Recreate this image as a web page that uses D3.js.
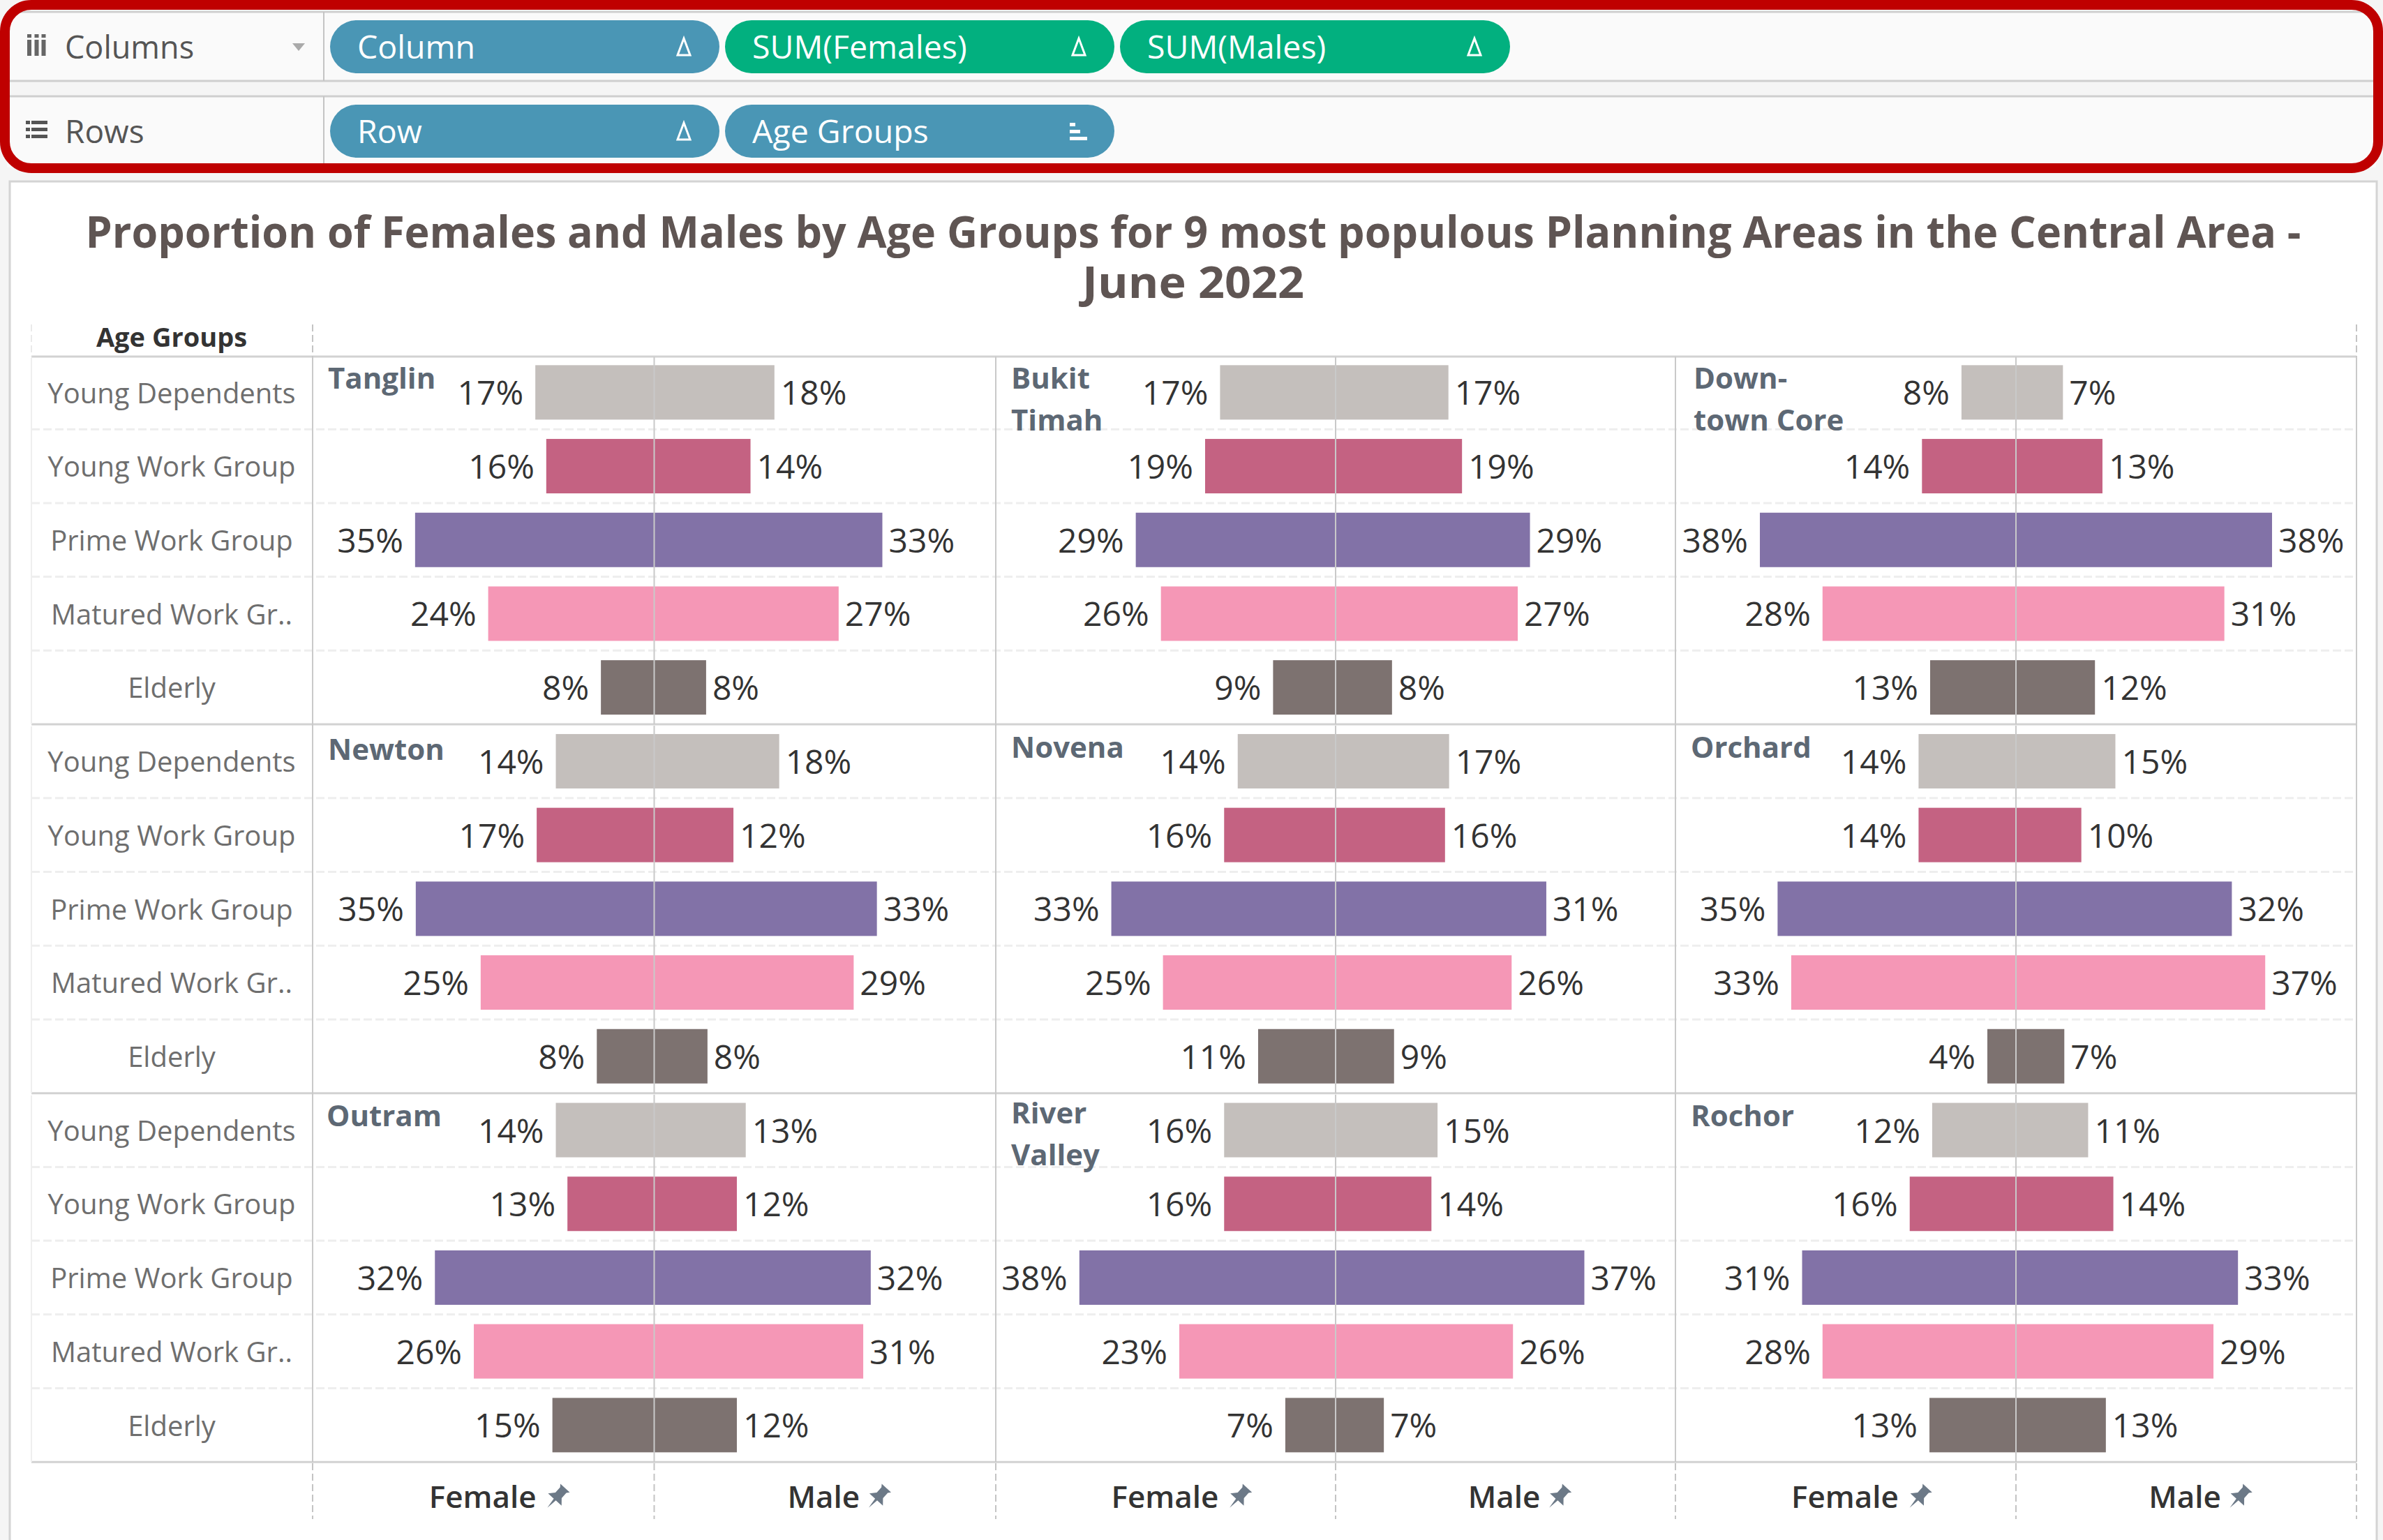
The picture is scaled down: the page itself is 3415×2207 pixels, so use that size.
<!DOCTYPE html>
<html><head><meta charset="utf-8">
<script src="https://cdn.jsdelivr.net/npm/d3@7"></script>
<style>html,body{margin:0;padding:0;background:#f5f5f5}svg{display:block}text{font-family:"Open Sans",sans-serif}</style>
</head><body><svg id="c" width="3415" height="2207"></svg>
<script>
const ageGroups = ["Young Dependents","Young Work Group","Prime Work Group","Matured Work Gr..","Elderly"];
const planningAreas = [["Tanglin"],["Bukit","Timah"],["Down-","town Core"],["Newton"],["Novena"],["Orchard"],["Outram"],["River","Valley"],["Rochor"]];
const femaleTanglin=[17.4,15.8,35.0,24.3,7.8], maleTanglin=[17.6,14.1,33.4,27.0,7.6];
const femaleBukit=[17.0,19.2,29.4,25.7,9.2], maleBukit=[16.6,18.6,28.6,26.8,8.3];
const femaleDowntown=[8.0,13.8,37.6,28.4,12.6], maleDowntown=[6.9,12.7,37.6,30.6,11.6];
const femaleNewton=[14.4,17.2,34.9,25.4,8.4], maleNewton=[18.3,11.6,32.6,29.2,7.8];
const femaleNovena=[14.4,16.4,33.0,25.4,11.4], maleNovena=[16.7,16.1,31.0,25.9,8.6];
const femaleOrchard=[14.3,14.3,35.0,33.0,4.2], maleOrchard=[14.6,9.6,31.7,36.6,7.1];
const femaleOutram=[14.4,12.7,32.1,26.4,14.9], maleOutram=[13.4,12.1,31.7,30.6,12.1];
const femaleRiver=[16.4,16.4,37.7,23.0,7.4], maleRiver=[15.0,14.1,36.6,26.1,7.1];
const femaleRochor=[12.3,15.6,31.4,28.4,12.7], maleRochor=[10.6,14.3,32.6,29.0,13.2];
const femaleSeries=[femaleTanglin,femaleBukit,femaleDowntown,femaleNewton,femaleNovena,femaleOrchard,femaleOutram,femaleRiver,femaleRochor];
const maleSeries=[maleTanglin,maleBukit,maleDowntown,maleNewton,maleNovena,maleOrchard,maleOutram,maleRiver,maleRochor];
const columnPills=["Column","SUM(Females)","SUM(Males)"];
const rowPills=["Row","Age Groups"];
const genders=["Female","Male"];
const titleLines=["Proportion of Females and Males by Age Groups for 9 most populous Planning Areas in the Central Area -","June 2022"];

const barColors=["#c4bfbc","#c46282","#8272a7","#f597b6","#7d7270"];
const svg=d3.select("#c");
const W=3415,H=2207;
const LINE="#c9c9c9";

/* shelf */
svg.append("rect").attr("width",W).attr("height",H).attr("fill","#f5f5f5");
const shelf=svg.append("g");
[[14,116],[138,240]].forEach(([a,b])=>shelf.append("rect").attr("x",10).attr("y",a).attr("width",W-20).attr("height",b-a).attr("fill","#fafafa"));
[17,116,138].forEach(y=>shelf.append("line").attr("x1",10).attr("x2",W-10).attr("y1",y).attr("y2",y).attr("stroke","#cfcfcf").attr("stroke-width",3));
[[17,116],[138,240]].forEach(([a,b])=>shelf.append("line").attr("x1",464).attr("x2",464).attr("y1",a).attr("y2",b).attr("stroke","#c4c4c4").attr("stroke-width",2));
shelf.append("text").attr("x",93).attr("y",84).attr("font-size",45).attr("fill","#555").text("Columns");
shelf.append("text").attr("x",93).attr("y",205).attr("font-size",46).attr("fill","#555").text("Rows");
// icons
[39,49.5,59.5].forEach(x=>{shelf.append("rect").attr("x",x).attr("y",57).attr("width",6).attr("height",23).attr("fill","#666");
 shelf.append("rect").attr("x",x).attr("y",49).attr("width",6).attr("height",5).attr("fill","#666");});
[173,183,193].forEach(y=>{shelf.append("rect").attr("x",37).attr("y",y).attr("width",6).attr("height",5).attr("fill","#555");
 shelf.append("rect").attr("x",45).attr("y",y).attr("width",23).attr("height",5).attr("fill","#555");});
shelf.append("path").attr("d","M419,62 L437,62 L428,73 Z").attr("fill","#aaa");

function pill(x0,x1,y,fill,label,icon){
  const g=shelf.append("g");
  g.append("rect").attr("x",x0).attr("y",y).attr("width",x1-x0).attr("height",76).attr("rx",38).attr("fill",fill);
  g.append("text").attr("x",x0+39).attr("y",y+55).attr("font-size",46.5).attr("fill","#fff").text(label);
  const cx=x1-51, cy=y+38;
  if(icon==="delta") g.append("path").attr("d",`M${cx},${cy-12} L${cx+9},${cy+12} L${cx-9},${cy+12} Z`).attr("fill","none").attr("stroke","#fff").attr("stroke-width",3);
  else [[-12,8],[-2,15],[8,25]].forEach(([dy,w])=>g.append("rect").attr("x",cx-13).attr("y",cy+dy).attr("width",w).attr("height",5).attr("fill","#fff"));
}
const pillX=[[473,1031],[1039,1597],[1605,2164]];
const colFills=["#4a96b5","#02b07f","#02b07f"];
columnPills.forEach((t,i)=>pill(pillX[i][0],pillX[i][1],29,colFills[i],t,"delta"));
rowPills.forEach((t,i)=>pill(pillX[i][0],pillX[i][1],150,"#4a96b5",t,i?"sort":"delta"));
svg.append("rect").attr("x",7).attr("y",7).attr("width",W-14).attr("height",234).attr("rx",38).attr("fill","none").attr("stroke","#bf0000").attr("stroke-width",14);

/* chart panel */
svg.append("rect").attr("x",14).attr("y",260).attr("width",W-23).attr("height",H).attr("fill","#fff").attr("stroke","#d4d4d4").attr("stroke-width",3);
const titleY=[355,427];
const titleW=[3175,318];
titleLines.forEach((t,i)=>svg.append("text").attr("x",1710).attr("y",titleY[i]).attr("text-anchor","middle")
  .attr("font-size",63).attr("font-weight",700).attr("fill","#5f5553")
  .attr("textLength",titleW[i]).attr("lengthAdjust","spacingAndGlyphs").text(t));

const colEdges=[448,1427,2401,3377];
const headerLeft=45;
const rowTop=509.5, rowPeriod=528.6, bandH=105.7;
const facetY=d3.scaleLinear().domain([0,3]).range([rowTop,rowTop+3*rowPeriod]);
const panels=planningAreas.map((name,i)=>({name,i,c:i%3,r:Math.floor(i/3)}));
const fmt=d3.format(".0%");
const labelDx={2:26,6:20};
const labelDy={3:51,7:43};

const grid=svg.append("g");
// dashed row separators
d3.range(3).forEach(r=>d3.range(1,5).forEach(k=>{
  const y=facetY(r)+k*bandH;
  grid.append("line").attr("x1",headerLeft).attr("x2",colEdges[3]).attr("y1",y).attr("y2",y).attr("stroke","#eeeeee").attr("stroke-width",3).attr("stroke-dasharray","12 5");
}));
// horizontal solids
[511,facetY(1),facetY(2),facetY(3)].forEach(y=>grid.append("line").attr("x1",headerLeft).attr("x2",colEdges[3]).attr("y1",y).attr("y2",y).attr("stroke","#d2d2d2").attr("stroke-width",3));
// header dashes
[headerLeft,448,3377].forEach((x,i)=>grid.append("line").attr("x1",x).attr("x2",x).attr("y1",465).attr("y2",511).attr("stroke",i?"#c4c4c4":"#eaeaea").attr("stroke-width",2).attr("stroke-dasharray","10 5"));
colEdges.forEach(x=>{
  grid.append("line").attr("x1",x).attr("x2",x).attr("y1",511).attr("y2",facetY(3)).attr("stroke",LINE).attr("stroke-width",2);
});
[0,1,2].forEach(r=>grid.append("line").attr("x1",headerLeft).attr("x2",headerLeft).attr("y1",facetY(r)+3).attr("y2",facetY(r+1)).attr("stroke","#efefef").attr("stroke-width",2));
svg.append("text").attr("x",246).attr("y",497).attr("text-anchor","middle").attr("font-size",38).attr("font-weight",700).attr("fill","#333").text("Age Groups");

// age-group axis
d3.range(3).forEach(r=>{
  const y=d3.scaleBand().domain(ageGroups).range([facetY(r),facetY(r)+5*bandH]);
  const ax=svg.append("g").attr("transform","translate(246,0)").call(d3.axisLeft(y).tickSize(0).tickPadding(0));
  ax.select(".domain").remove();
  ax.selectAll("text").attr("text-anchor","middle").attr("x",0).attr("dy","0.38em").attr("font-size",40).attr("fill","#6e6e6e").style("font-family",'"Open Sans",sans-serif');
});

panels.forEach(p=>{
  const g=svg.append("g");
  const x0=colEdges[p.c],x1=colEdges[p.c+1];
  const x=d3.scaleLinear().domain([-0.5,0.5]).range([x0,x1]);
  const y=d3.scaleBand().domain(ageGroups).range([facetY(p.r),facetY(p.r)+5*bandH]).paddingInner(0).paddingOuter(0);
  const barH=78;
  ageGroups.forEach((a,k)=>{
    const f=femaleSeries[p.i][k]/100,m=maleSeries[p.i][k]/100;
    const cy=y(a)+y.bandwidth()/2;
    g.append("rect").attr("x",x(-f)).attr("y",cy-barH/2).attr("width",x(m)-x(-f)).attr("height",barH).attr("fill",barColors[k]);
    g.append("text").attr("x",x(-f)-17).attr("y",cy+18).attr("text-anchor","end").attr("font-size",48).attr("fill","#333").text(fmt(f));
    g.append("text").attr("x",x(m)+9).attr("y",cy+18).attr("font-size",48).attr("fill","#333").text(fmt(m));
  });
  g.append("line").attr("x1",x(0)).attr("x2",x(0)).attr("y1",facetY(p.r)+2).attr("y2",facetY(p.r+1)).attr("stroke",LINE).attr("stroke-width",2);
  const by=facetY(p.r)+(labelDy[p.i]||47.5);
  p.name.forEach((t,j)=>g.append("text").attr("x",x0+(labelDx[p.i]||22)).attr("y",by+j*60).attr("font-size",42).attr("font-weight",700).attr("fill","#5d6874").text(t));
});

// bottom header
const genderCx=[-0.25,0.25];
const genderDx=[-1,-2];
const pinDx=[105,76];
d3.range(3).forEach(c=>{
  const x=d3.scaleLinear().domain([-0.5,0.5]).range([colEdges[c],colEdges[c+1]]);
  [-0.5,0,0.5].forEach(v=>svg.append("line").attr("x1",x(v)).attr("x2",x(v)).attr("y1",2097).attr("y2",2177).attr("stroke","#c4c4c4").attr("stroke-width",2).attr("stroke-dasharray","10 5"));
  genders.forEach((g,i)=>{
    const cx=x(genderCx[i]);
    svg.append("text").attr("x",cx+genderDx[i]).attr("y",2161).attr("text-anchor","middle").attr("font-size",44).attr("font-weight",600).attr("fill","#333").text(g);
    svg.append("path").attr("transform",`translate(${cx+pinDx[i]},2146) rotate(42)`).attr("d","M-9,-18 L9,-18 L6,-14 L6,-4 L13,4 L2,4 L0,20 L-2,4 L-13,4 L-6,-4 L-6,-14 Z").attr("fill","#6c7987");
  });
});
</script></body></html>
